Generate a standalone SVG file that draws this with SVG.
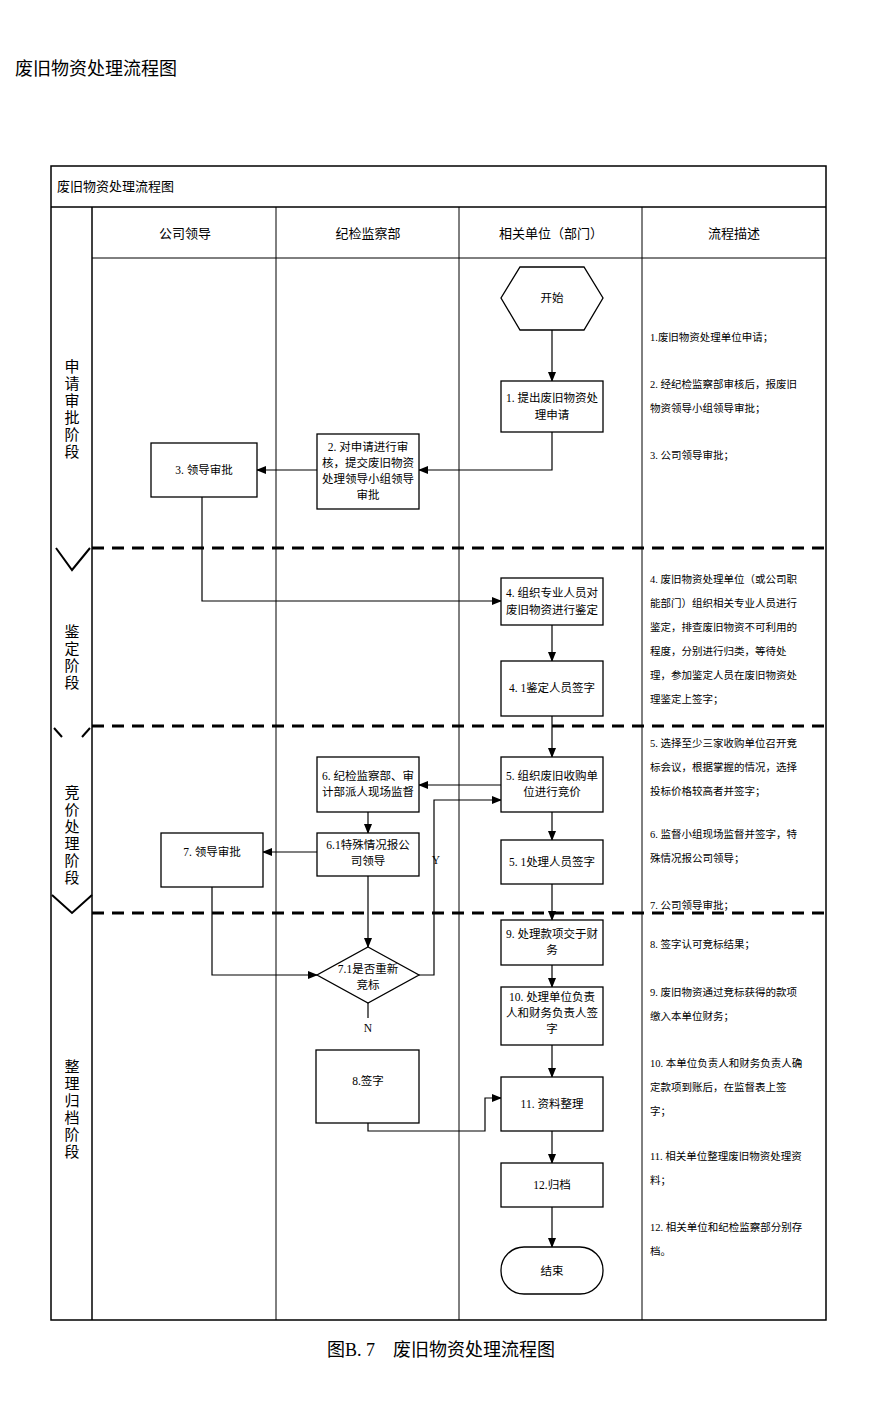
<svg xmlns="http://www.w3.org/2000/svg" width="881" height="1417" viewBox="0 0 881 1417">
<style>
text{font-family:"Liberation Serif","Noto Sans CJK SC",serif;fill:#000}
.n{fill:#fff;stroke:#000;stroke-width:1.3}
.t{font-size:11.5px;text-anchor:middle}
.d{font-size:10.5px}
.h{font-size:13px;text-anchor:middle}
.p{font-size:14px;text-anchor:middle}
.l{fill:none;stroke:#000;stroke-width:1.2}
.dash{stroke:#000;stroke-width:3;stroke-dasharray:12,8}
</style>
<defs><marker id="a" markerWidth="10" markerHeight="10" refX="9" refY="5" orient="auto" markerUnits="userSpaceOnUse"><path d="M0,1 L10,5 L0,9z"/></marker></defs>
<rect width="881" height="1417" fill="#fff"/>
<text x="15" y="75" style="font-size:18px">废旧物资处理流程图</text>
<g id="frame" fill="none" stroke="#000">
<rect x="51" y="166" width="775" height="1154" stroke-width="1.5"/>
<line x1="51" y1="207" x2="826" y2="207" stroke-width="1.5"/>
<line x1="92" y1="207" x2="92" y2="1320" stroke-width="1.5"/>
<line x1="276" y1="207" x2="276" y2="1320"/>
<line x1="459" y1="207" x2="459" y2="1320"/>
<line x1="642" y1="207" x2="642" y2="1320"/>
<line x1="92" y1="258" x2="826" y2="258"/>
<line x1="92" y1="548" x2="826" y2="548" class="dash"/>
<line x1="92" y1="726" x2="826" y2="726" class="dash"/>
<line x1="92" y1="913" x2="826" y2="913" class="dash"/>
<polyline points="56,548 72,570 90,548" stroke-width="2"/>
<polyline points="54,728 62,737" stroke-width="2"/>
<polyline points="82,737 90,728" stroke-width="2"/>
<polyline points="52,895 72,913 92,895" stroke-width="2"/>
</g>
<text x="57" y="191" style="font-size:13px">废旧物资处理流程图</text>
<text x="185" y="238" class="h">公司领导</text>
<text x="368" y="238" class="h">纪检监察部</text>
<text x="551" y="238" class="h">相关单位（部门）</text>
<text x="734" y="238" class="h">流程描述</text>
<g class="p" style="font-size:15px">
<text x="72" y="372" text-anchor="middle">申</text><text x="72" y="389" text-anchor="middle">请</text><text x="72" y="406" text-anchor="middle">审</text><text x="72" y="423" text-anchor="middle">批</text><text x="72" y="440" text-anchor="middle">阶</text><text x="72" y="457" text-anchor="middle">段</text>
<text x="72" y="637" text-anchor="middle">鉴</text><text x="72" y="654" text-anchor="middle">定</text><text x="72" y="671" text-anchor="middle">阶</text><text x="72" y="688" text-anchor="middle">段</text>
<text x="72" y="798" text-anchor="middle">竞</text><text x="72" y="815" text-anchor="middle">价</text><text x="72" y="832" text-anchor="middle">处</text><text x="72" y="849" text-anchor="middle">理</text><text x="72" y="866" text-anchor="middle">阶</text><text x="72" y="883" text-anchor="middle">段</text>
<text x="72" y="1072" text-anchor="middle">整</text><text x="72" y="1089" text-anchor="middle">理</text><text x="72" y="1106" text-anchor="middle">归</text><text x="72" y="1123" text-anchor="middle">档</text><text x="72" y="1140" text-anchor="middle">阶</text><text x="72" y="1157" text-anchor="middle">段</text>
</g>
<g id="connectors" class="l">
<line x1="552" y1="330" x2="552" y2="381" marker-end="url(#a)"/>
<polyline points="552,432 552,470 419,470" marker-end="url(#a)"/>
<line x1="317" y1="470" x2="257" y2="470" marker-end="url(#a)"/>
<polyline points="202,497 202,601 501,601" marker-end="url(#a)"/>
<line x1="552" y1="625" x2="552" y2="661" marker-end="url(#a)"/>
<line x1="552" y1="716" x2="552" y2="757" marker-end="url(#a)"/>
<line x1="501" y1="785" x2="419" y2="785" marker-end="url(#a)"/>
<polyline points="419,975 434,975 434,800 501,800" marker-end="url(#a)"/>
<line x1="368" y1="812" x2="368" y2="833" marker-end="url(#a)"/>
<line x1="317" y1="852" x2="263" y2="852" marker-end="url(#a)"/>
<line x1="552" y1="812" x2="552" y2="840" marker-end="url(#a)"/>
<line x1="552" y1="884" x2="552" y2="920" marker-end="url(#a)"/>
<line x1="368" y1="876" x2="368" y2="947" marker-end="url(#a)"/>
<polyline points="212,887 212,975 317,975" marker-end="url(#a)"/>
<line x1="368" y1="1003" x2="368" y2="1018"/>
<line x1="552" y1="965" x2="552" y2="987" marker-end="url(#a)"/>
<line x1="552" y1="1045" x2="552" y2="1077" marker-end="url(#a)"/>
<polyline points="368,1123 368,1131 485,1131 485,1098 501,1098" marker-end="url(#a)"/>
<line x1="552" y1="1131" x2="552" y2="1163" marker-end="url(#a)"/>
<line x1="552" y1="1207" x2="552" y2="1247" marker-end="url(#a)"/>
</g>
<text x="436" y="864" class="t">Y</text>
<text x="368" y="1032" class="t">N</text>
<g id="start"><polygon class="n" points="520,267 584,267 603,298 584,330 520,330 501,298"/><text x="552" y="302" class="t">开始</text></g>
<g id="s1"><rect class="n" x="501" y="381" width="102" height="51"/><text x="552" y="402" class="t">1. 提出废旧物资处</text><text x="552" y="419" class="t">理申请</text></g>
<g id="s2"><rect class="n" x="317" y="434" width="102" height="75"/><text x="368" y="451" class="t">2. 对申请进行审</text><text x="368" y="467" class="t">核，提交废旧物资</text><text x="368" y="483" class="t">处理领导小组领导</text><text x="368" y="499" class="t">审批</text></g>
<g id="s3"><rect class="n" x="151" y="443" width="106" height="54"/><text x="204" y="474" class="t">3. 领导审批</text></g>
<g id="s4"><rect class="n" x="501" y="578" width="102" height="47"/><text x="552" y="597" class="t">4. 组织专业人员对</text><text x="552" y="614" class="t">废旧物资进行鉴定</text></g>
<g id="s41"><rect class="n" x="501" y="661" width="102" height="55"/><text x="552" y="692" class="t">4. 1鉴定人员签字</text></g>
<g id="s5"><rect class="n" x="501" y="757" width="102" height="55"/><text x="552" y="780" class="t">5. 组织废旧收购单</text><text x="552" y="796" class="t">位进行竞价</text></g>
<g id="s6"><rect class="n" x="317" y="757" width="102" height="55"/><text x="368" y="780" class="t">6. 纪检监察部、审</text><text x="368" y="796" class="t">计部派人现场监督</text></g>
<g id="s61"><rect class="n" x="317" y="833" width="102" height="43"/><text x="368" y="849" class="t">6.1特殊情况报公</text><text x="368" y="865" class="t">司领导</text></g>
<g id="s7"><rect class="n" x="161" y="833" width="102" height="54"/><text x="212" y="856" class="t">7. 领导审批</text></g>
<g id="s51"><rect class="n" x="501" y="840" width="102" height="44"/><text x="552" y="866" class="t">5. 1处理人员签字</text></g>
<g id="s9"><rect class="n" x="501" y="920" width="102" height="45"/><text x="552" y="938" class="t">9. 处理款项交于财</text><text x="552" y="954" class="t">务</text></g>
<g id="s71"><polygon class="n" points="368,947 419,975 368,1003 317,975"/><text x="368" y="973" class="t">7.1是否重新</text><text x="368" y="989" class="t">竞标</text></g>
<g id="s10"><rect class="n" x="501" y="987" width="102" height="58"/><text x="552" y="1001" class="t">10. 处理单位负责</text><text x="552" y="1017" class="t">人和财务负责人签</text><text x="552" y="1033" class="t">字</text></g>
<g id="s8"><rect class="n" x="316" y="1050" width="103" height="73"/><text x="368" y="1085" class="t">8.签字</text></g>
<g id="s11"><rect class="n" x="501" y="1077" width="102" height="54"/><text x="552" y="1108" class="t">11. 资料整理</text></g>
<g id="s12"><rect class="n" x="501" y="1163" width="102" height="44"/><text x="552" y="1189" class="t">12.归档</text></g>
<g id="end"><rect class="n" x="501" y="1247" width="102" height="47" rx="23"/><text x="552" y="1275" class="t">结束</text></g>
<g id="desc" class="d">
<text x="650" y="341">1.废旧物资处理单位申请；</text>
<text x="650" y="388">2. 经纪检监察部审核后，报废旧</text>
<text x="650" y="412">物资领导小组领导审批；</text>
<text x="650" y="459">3. 公司领导审批；</text>
<text x="650" y="583">4. 废旧物资处理单位（或公司职</text>
<text x="650" y="607">能部门）组织相关专业人员进行</text>
<text x="650" y="631">鉴定，排查废旧物资不可利用的</text>
<text x="650" y="655">程度，分别进行归类，等待处</text>
<text x="650" y="679">理，参加鉴定人员在废旧物资处</text>
<text x="650" y="703">理鉴定上签字；</text>
<text x="650" y="747">5. 选择至少三家收购单位召开竞</text>
<text x="650" y="771">标会议，根据掌握的情况，选择</text>
<text x="650" y="795">投标价格较高者并签字；</text>
<text x="650" y="838">6. 监督小组现场监督并签字，特</text>
<text x="650" y="862">殊情况报公司领导；</text>
<text x="650" y="909">7. 公司领导审批；</text>
<text x="650" y="948">8. 签字认可竞标结果；</text>
<text x="650" y="996">9. 废旧物资通过竞标获得的款项</text>
<text x="650" y="1020">缴入本单位财务；</text>
<text x="650" y="1067">10. 本单位负责人和财务负责人确</text>
<text x="650" y="1091">定款项到账后，在监督表上签</text>
<text x="650" y="1115">字；</text>
<text x="650" y="1160">11. 相关单位整理废旧物资处理资</text>
<text x="650" y="1184">料；</text>
<text x="650" y="1231">12. 相关单位和纪检监察部分别存</text>
<text x="650" y="1255">档。</text>
</g>
<text x="441" y="1356" style="font-size:18px" text-anchor="middle">图B. 7　废旧物资处理流程图</text>
</svg>
